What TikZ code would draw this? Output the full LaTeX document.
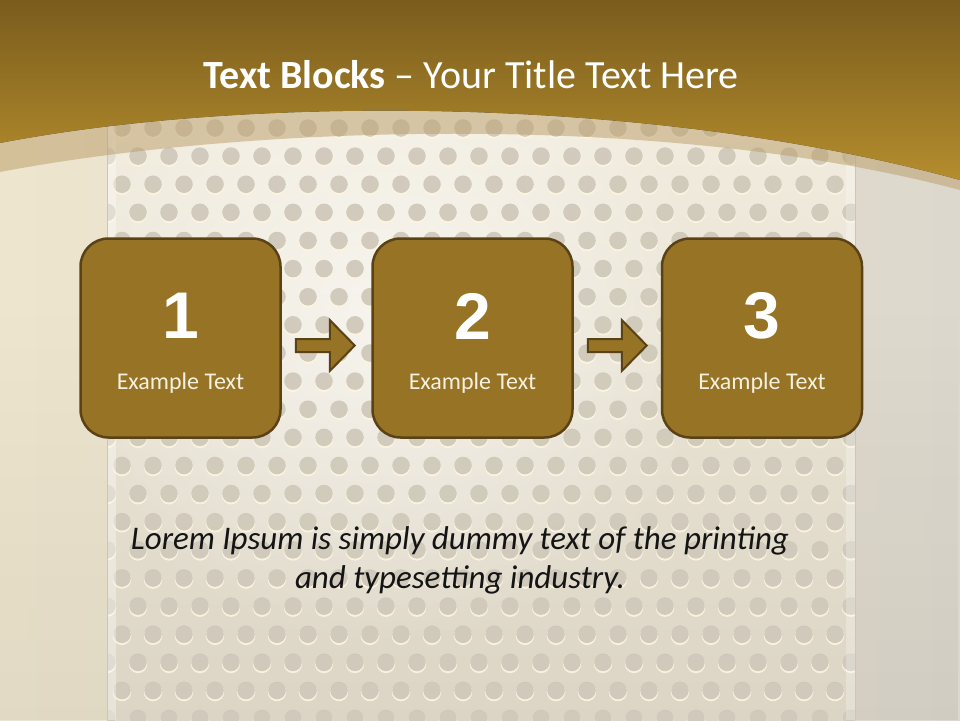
\documentclass[tikz,border=0pt]{standalone}
\usepackage{fontspec}
\setmainfont{Carlito}
\newfontfamily\numfont{Liberation Sans}
\usetikzlibrary{calc,fadings}

\tikzfading[name=glowfade, inner color=transparent!0, outer color=transparent!100]
\tikzfading[name=fadeup, top color=transparent!100, bottom color=transparent!0]

\definecolor{goldtop}{HTML}{7A5C1D}
\definecolor{goldbot}{HTML}{B48D2D}
\definecolor{boxfill}{HTML}{967325}
\definecolor{boxline}{HTML}{5A4216}
\definecolor{creamL}{HTML}{EEE5CE}
\definecolor{creamR}{HTML}{DDD8CD}
\definecolor{panelA}{HTML}{F2EDDF}
\definecolor{panelB}{HTML}{DCD5C5}
\definecolor{dotc}{HTML}{CBC4B7}
\definecolor{dothi}{HTML}{FBF5E0}
\definecolor{bandc}{HTML}{BA9C66}
\definecolor{edgec}{HTML}{CFC6B2}
\definecolor{txtlight}{HTML}{F6F0DF}
\definecolor{bodyc}{HTML}{141414}

\tikzset{
  blockbox/.style={draw=boxline, fill=boxfill, line width=2.5pt, rounded corners=28pt,
    minimum width=200pt, minimum height=199pt, inner sep=0pt},
  numtxt/.style={text=white, font=\numfont\bfseries\fontsize{66}{66}\selectfont, inner sep=0pt},
  extxt/.style={text=txtlight, font=\fontsize{24}{28}\selectfont, inner sep=0pt, anchor=base},
  blockarrow/.style={draw=boxline, fill=boxfill, line width=2pt, line join=miter},
  titletxt/.style={text=white, font=\fontsize{40}{46}\selectfont, inner sep=0pt, anchor=base},
  bodytxt/.style={text=bodyc, font=\itshape\fontsize{33}{39}\selectfont, align=center, inner sep=0pt},
  dotball/.style={fill=dotc, opacity=0.85},
  dotlight/.style={fill=dothi, opacity=0.9},
}

\begin{document}
\begin{tikzpicture}[x=1pt,y=-1pt]
\useasboundingbox (0,0) rectangle (960,720);
% base background
\shade[left color=creamL, right color=creamR] (0,0) rectangle (960,720);
\fill[black, opacity=0.05, path fading=fadeup] (0,300) rectangle (960,720);
% perforated panel
\shade[top color=panelA, bottom color=panelB] (107,100) rectangle (855,720);
\begin{scope}
  \clip (107,100) rectangle (855,720);
  \fill[white, path fading=glowfade, opacity=0.6] (380,320) ellipse (340pt and 330pt);
  \foreach \r in {0,...,21} {
    \pgfmathsetmacro\yy{128+28.125*\r}
    \pgfmathsetmacro\xo{ifthenelse(mod(\r,2)==0,153,138)}
    \foreach \c in {-2,...,23} {
      \fill[dotlight] (\xo+31*\c, \yy+1.6) circle (9.2pt);
      \fill[dotball] (\xo+31*\c, \yy) circle (8.8pt);
    }
  }
  \fill[white, opacity=0.35] (107,100) rectangle (116,720);
  \fill[white, opacity=0.25] (846,100) rectangle (855,720);
\end{scope}
\draw[edgec, line width=0.8pt] (107,100) -- (107,720);
\draw[edgec, line width=0.8pt] (855,100) -- (855,720);
% gold header
\fill[top color=goldtop, bottom color=goldbot]
  (0,0) -- (960,0) -- (960,180) .. controls (650,95) and (250,95) .. (0,143) -- cycle;
% translucent band
\fill[bandc, opacity=0.5]
  (0,143) .. controls (250,95) and (650,95) .. (960,180) -- (960,190)
  .. controls (650,108) and (230,128) .. (0,172) -- cycle;

% title
\node[titletxt] (title) at (471,88) {\textbf{Text Blocks} – Your Title Text Here};

% boxes
\node[blockbox] (b1) at (180.5,338) {};
\node[blockbox] (b2) at (472.5,338) {};
\node[blockbox] (b3) at (762,338) {};
\node[numtxt] (n1) at ($(b1.center)+(0,-22)$) {1};
\node[numtxt] (n2) at ($(b2.center)+(0,-22)$) {2};
\node[numtxt] (n3) at ($(b3.center)+(0,-22)$) {3};
\node[extxt] (e1) at ($(b1.center)+(0,51)$) {Example Text};
\node[extxt] (e2) at ($(b2.center)+(0,51)$) {Example Text};
\node[extxt] (e3) at ($(b3.center)+(0,51)$) {Example Text};

% arrows
\draw[blockarrow] ($(b1.east)+(14,1)$) -- ++(34,0) -- ++(0,-19) -- ++(25,25.5)
  -- ++(-25,25.5) -- ++(0,-19) -- ++(-34,0) -- cycle;
\draw[blockarrow] ($(b2.east)+(14,1)$) -- ++(34,0) -- ++(0,-19) -- ++(25,25.5)
  -- ++(-25,25.5) -- ++(0,-19) -- ++(-34,0) -- cycle;

% body text
\node[bodytxt] (body) at (460,560) {Lorem Ipsum is simply dummy text of the printing\\and typesetting industry.};
\end{tikzpicture}
\end{document}
